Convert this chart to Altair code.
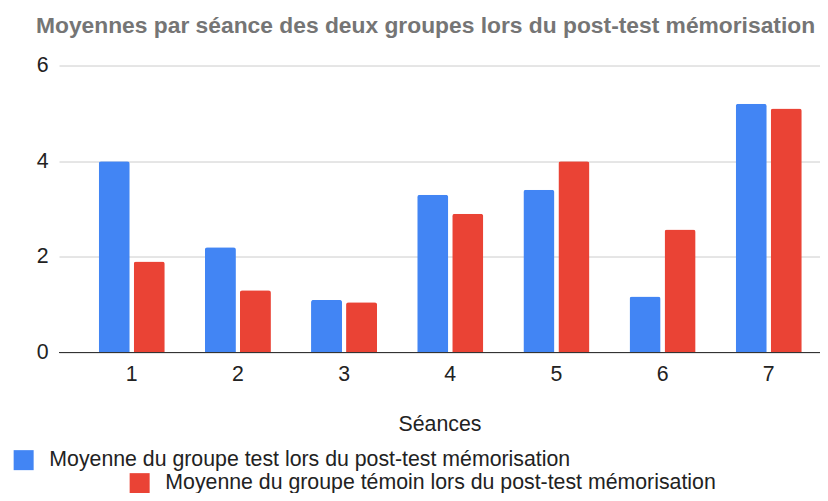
import altair as alt
import pandas as pd

seances = ["1", "2", "3", "4", "5", "6", "7"]
groupe_test = [4.0, 2.2, 1.1, 3.3, 3.4, 1.17, 5.2]
groupe_temoin = [1.9, 1.3, 1.05, 2.9, 4.0, 2.57, 5.1]
series_names = [
    "Moyenne du groupe test lors du post-test mémorisation",
    "Moyenne du groupe témoin lors du post-test mémorisation",
]
colors = ["#4285F4", "#EA4335"]
y_ticks = [0, 2, 4, 6]

rows = []
for i, s in enumerate(seances):
    rows.append({"Séance": s, "Groupe": series_names[0], "Moyenne": groupe_test[i]})
    rows.append({"Séance": s, "Groupe": series_names[1], "Moyenne": groupe_temoin[i]})
df = pd.DataFrame(rows)

FONT = "Liberation Sans"
FS = 21.3

x_enc = alt.X(
    "Séance:N",
    sort=seances,
    scale=alt.Scale(paddingInner=0.378, paddingOuter=0.273, align=0.685),
    axis=alt.Axis(
        title="Séances", labelAngle=0, ticks=False, domain=False,
        labelFontSize=FS, labelColor="#222222", labelFont=FONT, labelPadding=11,
        titleFontSize=FS, titleFontWeight="normal", titleColor="#222222",
        titleFont=FONT, titlePadding=29,
    ),
)
y_enc = alt.Y(
    "Moyenne:Q",
    scale=alt.Scale(domain=[0, 6], nice=False),
    axis=alt.Axis(
        title=None, values=y_ticks, domain=False, ticks=False,
        labelFontSize=FS, labelColor="#222222", labelFont=FONT, labelPadding=11,
        gridColor="#cccccc", gridWidth=1,
    ),
)
xoff = alt.XOffset("Groupe:N", sort=series_names, scale=alt.Scale(paddingInner=0.114))


def layer_for(idx, lx, ly):
    return (
        alt.Chart(df)
        .transform_filter(alt.datum.Groupe == series_names[idx])
        .mark_bar(cornerRadiusTopLeft=2.5, cornerRadiusTopRight=2.5)
        .encode(
            x=x_enc,
            y=y_enc,
            xOffset=xoff,
            color=alt.Color(
                "Groupe:N",
                scale=alt.Scale(domain=[series_names[idx]], range=[colors[idx]]),
                legend=alt.Legend(
                    title=None, orient="none", legendX=lx, legendY=ly,
                    symbolType="square", symbolSize=400, symbolStrokeWidth=0,
                    labelFontSize=FS, labelColor="#222222", labelFont=FONT,
                    labelOffset=15, padding=0, labelLimit=1000,
                ),
            ),
        )
    )


bars_test = layer_for(0, -46, 384)
bars_temoin = layer_for(1, 70, 407)

zero_rule = (
    alt.Chart(pd.DataFrame({"y": [0]}))
    .mark_rule(color="#333333", strokeWidth=1)
    .encode(y=alt.Y("y:Q", scale=alt.Scale(domain=[0, 6], nice=False)))
)

chart = (
    alt.layer(bars_test, bars_temoin, zero_rule)
    .resolve_scale(color="independent")
    .resolve_legend(color="independent")
    .properties(
        width=761,
        height=287,
        autosize=alt.AutoSizeParams(type="none"),
        padding={"left": 51, "top": 57.5, "right": 0, "bottom": 140.5},
        title=alt.TitleParams(
            "Moyennes par séance des deux groupes lors du post-test mémorisation",
            anchor="start", frame="group", fontSize=22.8, fontWeight="bold",
            color="#757575", font=FONT, dx=-23, offset=17,
        ),
    )
    .configure_view(stroke=None)
)

chart.save("out.html", embed_options={"renderer": "svg", "actions": False})
